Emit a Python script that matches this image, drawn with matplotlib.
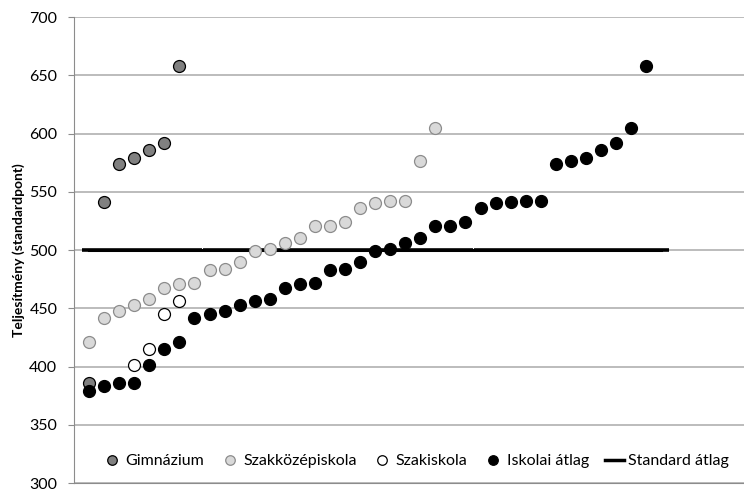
import matplotlib
matplotlib.use('Agg')
import matplotlib.pyplot as plt

# adatok (rangsor szerinti helyezés, teljesítmény)
gimn_x = [1, 2, 3, 4, 5, 6, 7]
gimn = [386, 541, 574, 579, 586, 592, 658]

szakkoz_x = list(range(1, 25))
szakkoz = [421, 442, 448, 453, 458, 467, 471, 472, 483, 484, 490, 499,
           501, 506, 510, 521, 521, 524, 536, 540, 542, 542, 576, 605]

szakisk_x = [4, 5, 6, 7]
szakisk = [401, 415, 445, 456]

iskolai_x = list(range(1, 39))
iskolai = [379, 383, 386, 386, 401, 415, 421, 442, 445, 448, 453, 456, 458,
           467, 471, 472, 483, 484, 490, 499, 501, 506, 510, 521, 521, 524,
           536, 540, 541, 542, 542, 574, 576, 579, 586, 592, 605, 658]

standard_x = list(range(1, 40))
standard = [500] * 39

labels = ['Gimnázium', 'Szakközépiskola', 'Szakiskola', 'Iskolai átlag', 'Standard átlag']

plt.rcParams['font.family'] = ['Lato', 'DejaVu Sans']

fig = plt.figure(figsize=(7.44, 4.9), dpi=100)
ax = fig.add_axes([74 / 744, 7 / 490, 670 / 744, 466 / 490])

ms = 8.6
line_std, = ax.plot(standard_x, standard, color='black', lw=2.2, marker='_',
                    ms=10.8, mew=2.6, zorder=2)
p1, = ax.plot(gimn_x, gimn, 'o', ms=ms, mfc='#808080', mec='black', mew=0.9, zorder=3)
p2, = ax.plot(szakkoz_x, szakkoz, 'o', ms=ms, mfc='#d9d9d9', mec='#8c8c8c', mew=0.9, zorder=3)
p3, = ax.plot(szakisk_x, szakisk, 'o', ms=ms, mfc='white', mec='black', mew=0.9, zorder=3)
p4, = ax.plot(iskolai_x, iskolai, 'o', ms=ms, mfc='black', mec='black', mew=0.9, zorder=4)

ax.set_xlim(0, 44.5)
ax.set_ylim(300, 700)
ax.set_yticks(range(300, 701, 50))
ax.set_xticks([])
ax.grid(axis='y', color='#b0b0b0', lw=1.2)
ax.set_axisbelow(True)
for s in ['top', 'right']:
    ax.spines[s].set_visible(False)
ax.spines['left'].set_color('#8c8c8c')
ax.spines['bottom'].set_color('#8c8c8c')
ax.tick_params(axis='y', length=4, color='#8c8c8c', labelsize=11.5, pad=8)

ax.set_ylabel('Teljesítmény (standardpont)', fontsize=10, fontweight='bold')
ax.yaxis.set_label_coords(-0.073, 0.5)

leg = ax.legend([p1, p2, p3, p4, line_std], labels, loc='center',
                bbox_to_anchor=(0.51, 0.047), ncol=5, frameon=False,
                fontsize=11.5, handlelength=1.2, handletextpad=0.25,
                columnspacing=1.0, markerscale=0.8)
leg.legend_handles[4].set_marker('')
leg.legend_handles[4].set_linewidth(2.5)

plt.savefig('out.png')
